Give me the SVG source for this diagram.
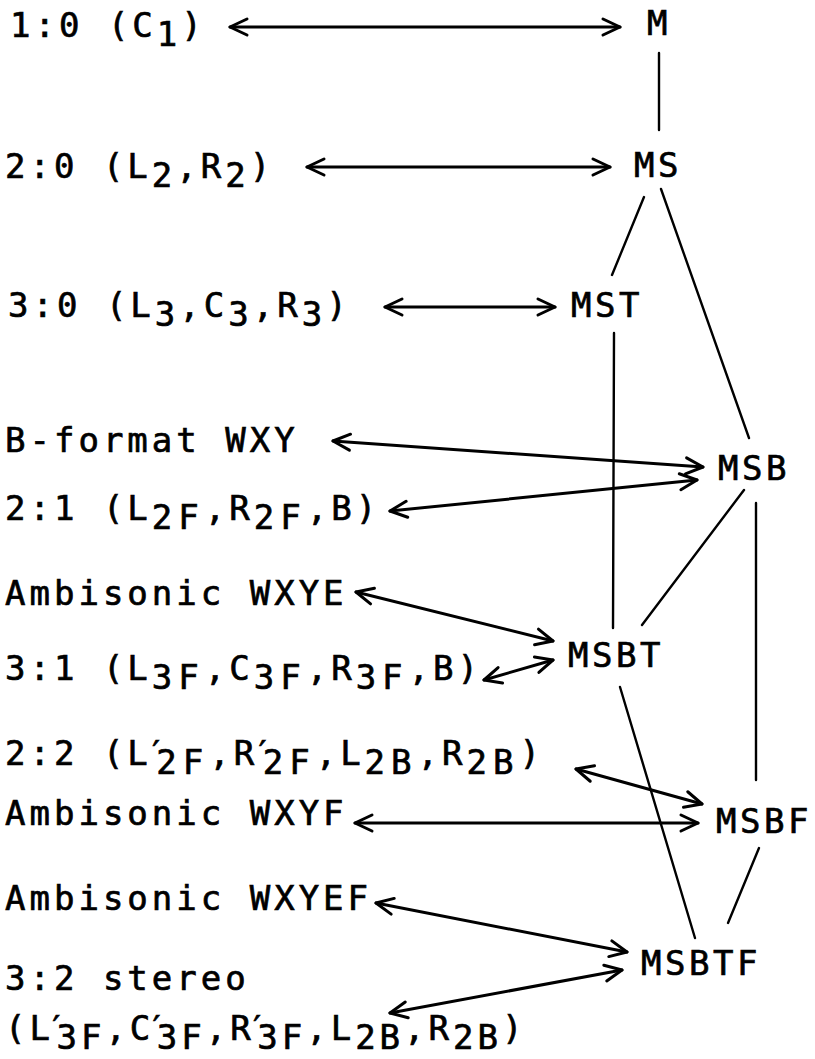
<svg xmlns="http://www.w3.org/2000/svg" width="815" height="1059" viewBox="0 0 815 1059">
  <defs>
    <style>
      .t { font-family: "DejaVu Sans Mono", "Liberation Mono", monospace; font-size: 34px; letter-spacing: 4px; fill: #000; stroke: #000; stroke-width: 0.7px; }
      .n { letter-spacing: 3.5px; }
      .s { letter-spacing: 6px; }
      .pr { letter-spacing: -10px; }
      .c { stroke: #000; stroke-width: 2.4; fill: none; stroke-linecap: round; }
      .a { stroke: #000; stroke-width: 3; fill: none; stroke-linecap: round; marker-start: url(#head); marker-end: url(#head); }
    </style>
    <marker id="head" markerUnits="userSpaceOnUse" viewBox="-22 -12 26 24" refX="0" refY="0" markerWidth="26" markerHeight="24" orient="auto-start-reverse">
      <path d="M-17,-8 L0,0 L-17,8" fill="none" stroke="#000" stroke-width="3" stroke-linecap="round" stroke-linejoin="round"/>
    </marker>
  </defs>
  <rect width="815" height="1059" fill="#fff"/>

  <!-- format labels -->
  <g id="fmt-1-0"><text class="t" x="10" y="37">1:0 (C<tspan dy="9">1</tspan><tspan dy="-9">)</tspan></text></g>
  <g id="fmt-2-0"><text class="t" x="5" y="178">2:0 (L<tspan dy="9">2</tspan><tspan dy="-9">,R</tspan><tspan dy="9">2</tspan><tspan dy="-9">)</tspan></text></g>
  <g id="fmt-3-0"><text class="t" x="8" y="317">3:0 (L<tspan dy="9">3</tspan><tspan dy="-9">,C</tspan><tspan dy="9">3</tspan><tspan dy="-9">,R</tspan><tspan dy="9">3</tspan><tspan dy="-9">)</tspan></text></g>
  <g id="fmt-bformat"><text class="t" x="5" y="452">B-format WXY</text></g>
  <g id="fmt-2-1"><text class="t" x="5" y="520">2:1 (L<tspan class="s" dy="9">2F</tspan><tspan dy="-9">,R</tspan><tspan class="s" dy="9">2F</tspan><tspan dy="-9">,B)</tspan></text></g>
  <g id="fmt-wxye"><text class="t" x="5" y="605">Ambisonic WXYE</text></g>
  <g id="fmt-3-1"><text class="t" x="5" y="680">3:1 (L<tspan class="s" dy="9">3F</tspan><tspan dy="-9">,C</tspan><tspan class="s" dy="9">3F</tspan><tspan dy="-9">,R</tspan><tspan class="s" dy="9">3F</tspan><tspan dy="-9">,B)</tspan></text></g>
  <g id="fmt-2-2"><text class="t" x="5" y="765">2:2 (L<tspan class="pr" dx="-6">′</tspan><tspan class="s" dy="9">2F</tspan><tspan dy="-9">,R</tspan><tspan class="pr" dx="-6">′</tspan><tspan class="s" dy="9">2F</tspan><tspan dy="-9">,L</tspan><tspan class="s" dy="9">2B</tspan><tspan dy="-9">,R</tspan><tspan class="s" dy="9">2B</tspan><tspan dy="-9">)</tspan></text></g>
  <g id="fmt-wxyf"><text class="t" x="5" y="825">Ambisonic WXYF</text></g>
  <g id="fmt-wxyef"><text class="t" x="5" y="910">Ambisonic WXYEF</text></g>
  <g id="fmt-3-2"><text class="t" x="5" y="990">3:2 stereo</text><text class="t" x="5" y="1040">(L<tspan class="pr" dx="-8">′</tspan><tspan dy="9">3F</tspan><tspan dy="-9">,C</tspan><tspan class="pr" dx="-8">′</tspan><tspan dy="9">3F</tspan><tspan dy="-9">,R</tspan><tspan class="pr" dx="-8">′</tspan><tspan dy="9">3F</tspan><tspan dy="-9">,L</tspan><tspan dy="9">2B</tspan><tspan dy="-9">,R</tspan><tspan dy="9">2B</tspan><tspan dy="-9">)</tspan></text></g>

  <!-- signal nodes -->
  <g id="node-M"><text class="t n" x="647" y="35">M</text></g>
  <g id="node-MS"><text class="t n" x="634" y="177">MS</text></g>
  <g id="node-MST"><text class="t n" x="571" y="317">MST</text></g>
  <g id="node-MSB"><text class="t n" x="718" y="480">MSB</text></g>
  <g id="node-MSBT"><text class="t n" x="568" y="667">MSBT</text></g>
  <g id="node-MSBF"><text class="t n" x="716" y="833">MSBF</text></g>
  <g id="node-MSBTF"><text class="t n" x="641" y="975">MSBTF</text></g>

  <!-- connectors -->
  <g id="connectors">
    <line class="c" x1="659" y1="53" x2="659" y2="130"/>
    <line class="c" x1="644" y1="197" x2="612" y2="275"/>
    <line class="c" x1="661" y1="189" x2="749" y2="438"/>
    <line class="c" x1="614" y1="333" x2="613" y2="628"/>
    <line class="c" x1="744" y1="490" x2="642" y2="625"/>
    <line class="c" x1="756" y1="503" x2="756" y2="780"/>
    <line class="c" x1="620" y1="687" x2="695" y2="938"/>
    <line class="c" x1="759" y1="848" x2="728" y2="923"/>

    <line class="a" x1="230" y1="27" x2="620" y2="27"/>
    <line class="a" x1="307" y1="167" x2="610" y2="167"/>
    <line class="a" x1="385" y1="307" x2="555" y2="307"/>
    <line class="a" x1="333" y1="441" x2="703" y2="467"/>
    <line class="a" x1="390" y1="511" x2="697" y2="480"/>
    <line class="a" x1="356" y1="592" x2="553" y2="641"/>
    <line class="a" x1="484" y1="680" x2="553" y2="660"/>
    <line class="a" x1="576" y1="769" x2="702" y2="804"/>
    <line class="a" x1="355" y1="823" x2="698" y2="823"/>
    <line class="a" x1="376" y1="903" x2="627" y2="952"/>
    <line class="a" x1="390" y1="1013" x2="622" y2="970"/>
  </g>
</svg>
